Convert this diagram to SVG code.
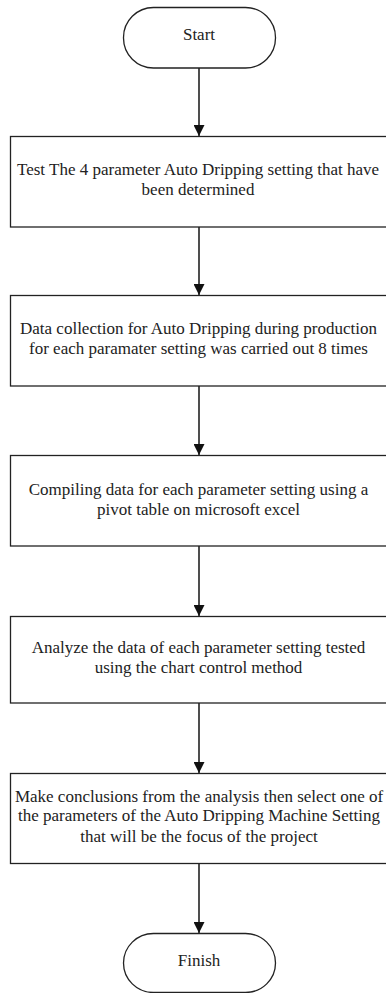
<svg xmlns="http://www.w3.org/2000/svg" width="386" height="993" viewBox="0 0 386 993">
<defs>
<style>
.shape{fill:#fff;stroke:#222;stroke-width:1.3}
.t{font-family:'Liberation Serif','Times New Roman',serif;font-size:17px;fill:#222;text-anchor:middle}
.c{stroke:#222;stroke-width:1.6;fill:none}
</style>
<marker id="ah" viewBox="0 0 10 10" refX="10" refY="5" markerWidth="11" markerHeight="11" markerUnits="userSpaceOnUse" orient="auto">
<path d="M0,0 L10,5 L0,10 Z" fill="#111"/>
</marker>
</defs>
<rect width="386" height="993" fill="#fff"/>
<g id="connectors">
<line class="c" x1="199" y1="68" x2="199" y2="136" marker-end="url(#ah)"/>
<line class="c" x1="199" y1="227" x2="199" y2="295" marker-end="url(#ah)"/>
<line class="c" x1="199" y1="386" x2="199" y2="455" marker-end="url(#ah)"/>
<line class="c" x1="199" y1="546" x2="199" y2="616" marker-end="url(#ah)"/>
<line class="c" x1="199" y1="703" x2="199" y2="773" marker-end="url(#ah)"/>
<line class="c" x1="199" y1="864" x2="199" y2="933" marker-end="url(#ah)"/>
</g>
<g id="start">
<rect class="shape" x="123.5" y="7.5" width="152" height="60.5" rx="30" ry="30"/>
<text class="t" x="199" y="40">Start</text>
</g>
<g id="step1">
<rect class="shape" x="10.5" y="136.5" width="378" height="90.5"/>
<text class="t" x="198" y="174.5">Test The 4 parameter Auto Dripping setting that have</text>
<text class="t" x="198" y="194.5">been determined</text>
</g>
<g id="step2">
<rect class="shape" x="10.5" y="295.5" width="378" height="90.5"/>
<text class="t" x="198.5" y="334">Data collection for Auto Dripping during production</text>
<text class="t" x="198.5" y="354">for each paramater setting was carried out 8 times</text>
</g>
<g id="step3">
<rect class="shape" x="10.5" y="455.5" width="378" height="90.5"/>
<text class="t" x="198.5" y="495">Compiling data for each parameter setting using a</text>
<text class="t" x="198.5" y="515">pivot table on microsoft excel</text>
</g>
<g id="step4">
<rect class="shape" x="10.5" y="616.5" width="378" height="86.5"/>
<text class="t" x="198.5" y="653">Analyze the data of each parameter setting tested</text>
<text class="t" x="198.5" y="673">using the chart control method</text>
</g>
<g id="step5">
<rect class="shape" x="10.5" y="773.5" width="378" height="90"/>
<text class="t" x="199" y="801.5">Make conclusions from the analysis then select one of</text>
<text class="t" x="199" y="821">the parameters of the Auto Dripping Machine Setting</text>
<text class="t" x="199" y="841.5">that will be the focus of the project</text>
</g>
<g id="finish">
<rect class="shape" x="123.5" y="933.5" width="152" height="59" rx="30" ry="30"/>
<text class="t" x="199" y="966">Finish</text>
</g>
</svg>
